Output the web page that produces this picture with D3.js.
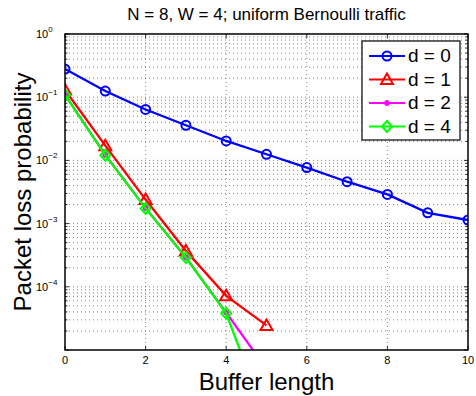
<!DOCTYPE html>
<html>
<head>
<meta charset="UTF-8">
<script src="https://cdn.jsdelivr.net/npm/d3@7"></script>
<style>
  body { margin: 0; background: #fff; }
  text { font-family: "Liberation Sans", Arial, sans-serif; }
</style>
</head>
<body>
<div id="chart"></div>
<script>
// data
const bufferLen = [0, 1, 2, 3, 4, 5, 6, 7, 8, 9, 10];
const d0 = [0.279, 0.125, 0.064, 0.036, 0.0203, 0.0125, 0.0077, 0.0046, 0.0029, 0.00148, 0.00114];
const d1 = [0.13, 0.0171, 0.0024, 0.00037, 0.000072, 0.0000245];
const d2 = [0.11, 0.0122, 0.00176, 0.00029, 0.000039, 0.000005];
const d4 = [0.108, 0.0121, 0.00174, 0.00029, 0.000038, 0.00000076];
const xTicks = [0, 2, 4, 6, 8, 10];
const yTicks = [0, -1, -2, -3, -4];

const series = [
  {name: "d = 0", vals: d0, color: "#0000ff", marker: "circle"},
  {name: "d = 1", vals: d1, color: "#ff0000", marker: "triangle"},
  {name: "d = 2", vals: d2, color: "#ff00ff", marker: "dot"},
  {name: "d = 4", vals: d4, color: "#00ff00", marker: "diamond"}
];

const W = 476, H = 396;
const margin = {top: 34, right: 8, bottom: 46, left: 65};
const width = W - margin.left - margin.right,
      height = H - margin.top - margin.bottom;

const svg = d3.select("#chart").append("svg")
    .attr("width", W).attr("height", H);

const x = d3.scaleLinear().domain([0, 10]).range([margin.left, margin.left + width]);
const y = d3.scaleLog().domain([1e-5, 1]).range([margin.top + height, margin.top]);

// grid
const grid = svg.append("g").attr("stroke", "#333").attr("stroke-width", 0.6)
    .attr("stroke-dasharray", "1,3");
xTicks.slice(1, -1).forEach(t => {
  grid.append("line").attr("x1", x(t)).attr("x2", x(t))
      .attr("y1", margin.top).attr("y2", margin.top + height);
});
for (let e = -5; e < 0; e++) {
  for (let m = 1; m <= 9; m++) {
    if (e === -5 && m === 1) continue;
    const v = m * Math.pow(10, e);
    grid.append("line").attr("x1", margin.left).attr("x2", margin.left + width)
        .attr("y1", y(v)).attr("y2", y(v));
  }
}

// minor ticks on y axis (both sides)
const ticks = svg.append("g").attr("stroke", "#000").attr("stroke-width", 0.8);
for (let e = -5; e <= 0; e++) {
  for (let m = 1; m <= 9; m++) {
    const v = m * Math.pow(10, e);
    if (v > 1) break;
    const len = m === 1 ? 4 : 2.5;
    ticks.append("line").attr("x1", margin.left).attr("x2", margin.left + len)
        .attr("y1", y(v)).attr("y2", y(v));
    ticks.append("line").attr("x1", margin.left + width).attr("x2", margin.left + width - len)
        .attr("y1", y(v)).attr("y2", y(v));
  }
}
xTicks.forEach(t => {
  ticks.append("line").attr("x1", x(t)).attr("x2", x(t))
      .attr("y1", margin.top + height).attr("y2", margin.top + height - 4);
  ticks.append("line").attr("x1", x(t)).attr("x2", x(t))
      .attr("y1", margin.top).attr("y2", margin.top + 4);
});

// clip for data
svg.append("clipPath").attr("id", "clip").append("rect")
    .attr("x", margin.left).attr("y", margin.top).attr("width", width).attr("height", height);

const line = d3.line().x((d, i) => x(bufferLen[i])).y(d => y(d));

function drawMarker(g, type, cx, cy, color) {
  if (type === "circle") {
    g.append("circle").attr("cx", cx).attr("cy", cy).attr("r", 4.5)
        .attr("fill", "none").attr("stroke", color).attr("stroke-width", 2);
  } else if (type === "triangle") {
    g.append("path").attr("d", `M${cx},${cy - 6}L${cx + 6},${cy + 4.5}L${cx - 6},${cy + 4.5}Z`)
        .attr("fill", "none").attr("stroke", color).attr("stroke-width", 2);
  } else if (type === "diamond") {
    g.append("path").attr("d", `M${cx},${cy - 5.5}L${cx + 5},${cy}L${cx},${cy + 5.5}L${cx - 5},${cy}Z`)
        .attr("fill", "none").attr("stroke", color).attr("stroke-width", 2);
  } else {
    g.append("circle").attr("cx", cx).attr("cy", cy).attr("r", 2.5)
        .attr("fill", color).attr("stroke", color);
  }
}

const plot = svg.append("g").attr("clip-path", "url(#clip)");
series.forEach(s => {
  plot.append("path").datum(s.vals).attr("d", line)
      .attr("fill", "none").attr("stroke", s.color).attr("stroke-width", 2.3);
  s.vals.forEach((v, i) => {
    if (v >= 1e-5) drawMarker(plot, s.marker, x(bufferLen[i]), y(v), s.color);
  });
});

// axes box
svg.append("rect").attr("x", margin.left).attr("y", margin.top)
    .attr("width", width).attr("height", height)
    .attr("fill", "none").attr("stroke", "#000").attr("stroke-width", 1.5);

// tick labels
svg.append("g").selectAll("text").data(xTicks).join("text")
    .attr("x", d => x(d)).attr("y", margin.top + height + 14)
    .attr("text-anchor", "middle").attr("font-size", 11).text(d => d);

const yl = svg.append("g").selectAll("text").data(yTicks).join("text")
    .attr("x", 36).attr("y", d => y(Math.pow(10, d)) + 4)
    .attr("font-size", 11);
yl.append("tspan").text("10");
yl.append("tspan").attr("dy", -6).attr("font-size", 8).text(d => d === 0 ? "0" : "\u2212" + (-d));

// axis labels and title
svg.append("text").attr("x", margin.left + width / 2).attr("y", 390)
    .attr("text-anchor", "middle").attr("font-size", 24).text("Buffer length");
svg.append("text").attr("transform", `translate(31,${margin.top + height / 2}) rotate(-90)`)
    .attr("text-anchor", "middle").attr("font-size", 24).text("Packet loss probability");
svg.append("text").attr("x", margin.left + width / 2).attr("y", 20)
    .attr("text-anchor", "middle").attr("font-size", 17)
    .text("N = 8, W = 4; uniform Bernoulli traffic");

// legend
const lg = svg.append("g");
lg.append("rect").attr("x", 362).attr("y", 41).attr("width", 98).attr("height", 99)
    .attr("fill", "#fff").attr("stroke", "#000").attr("stroke-width", 1.2);
series.forEach((s, i) => {
  const ly = 56 + i * 23.5;
  lg.append("line").attr("x1", 369).attr("x2", 405).attr("y1", ly).attr("y2", ly)
      .attr("stroke", s.color).attr("stroke-width", 2);
  drawMarker(lg, s.marker, 387, ly, s.color);
  lg.append("text").attr("x", 408).attr("y", ly + 6).attr("font-size", 19).text(s.name);
});
</script>
</body>
</html>
